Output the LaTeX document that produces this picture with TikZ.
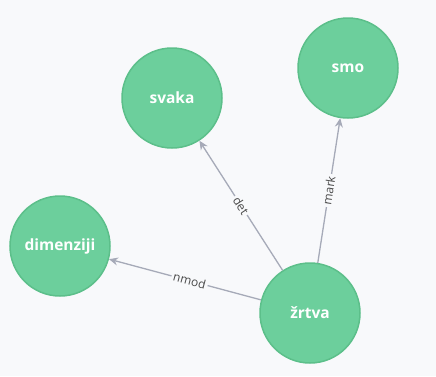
\documentclass[tikz,border=0pt]{standalone}
\usepackage{fontspec}
\setmainfont{Open Sans}
\usetikzlibrary{arrows.meta}
\definecolor{bgc}{HTML}{F8F9FB}
\definecolor{nodefill}{HTML}{6CCF9C}
\definecolor{nodedraw}{HTML}{5CBF8A}
\definecolor{edgec}{HTML}{A6AAB8}
\definecolor{labc}{HTML}{4A4A4A}
\tikzset{
  word/.style={circle, fill=nodefill, draw=nodedraw, line width=1.5pt, minimum size=100pt, inner sep=0pt,
    text=white, font=\fontsize{15.5}{17}\selectfont\bfseries},
  dep/.style={draw=edgec, line width=1.3pt, -{Stealth[length=9pt,width=8pt]}},
  deplab/.style={midway, sloped, fill=bgc, inner sep=2pt, text=labc,
    font=\fontsize{12}{13}\selectfont}
}
\begin{document}
\begin{tikzpicture}[x=1pt,y=-1pt]
\fill[bgc] (0,0) rectangle (436,376);
\useasboundingbox (0,0) rectangle (436,376);
\node[word] (svaka) at (172,98) {svaka};
\node[word] (smo) at (348,68) {smo};
\node[word] (dim) at (60,246) {dimenziji};
\node[word] (zrtva) at (310,313) {žrtva};
\draw[dep] (zrtva) -- node[deplab] {det} (svaka);
\draw[dep] (zrtva) -- node[deplab] {mark} (smo);
\draw[dep] (zrtva) -- node[deplab, pos=0.47] {nmod} (dim);
\end{tikzpicture}
\end{document}
